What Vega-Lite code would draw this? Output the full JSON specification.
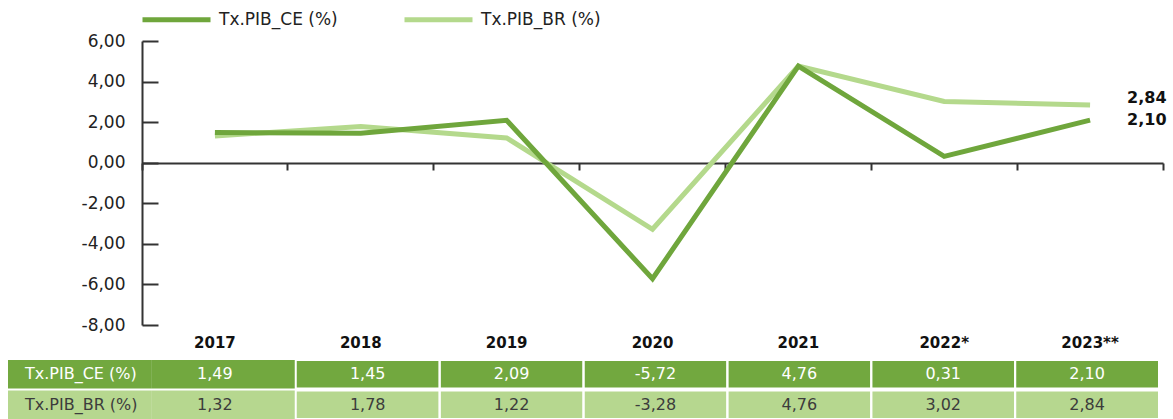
{
  "$schema": "https://vega.github.io/schema/vega-lite/v6.json",
  "width": 1173,
  "height": 419,
  "autosize": {"type": "none"},
  "padding": 0,
  "background": "white",
  "config": {
    "view": {"stroke": null},
    "font": "DejaVu Sans",
    "locale": {
      "number": {"decimal": ",", "thousands": ".", "grouping": [3], "currency": ["R$", ""], "minus": "-"}
    }
  },
  "datasets": {
    "pib": [
      {"ano": "2017", "serie": "Tx.PIB_CE (%)", "valor": 1.49},
      {"ano": "2018", "serie": "Tx.PIB_CE (%)", "valor": 1.45},
      {"ano": "2019", "serie": "Tx.PIB_CE (%)", "valor": 2.09},
      {"ano": "2020", "serie": "Tx.PIB_CE (%)", "valor": -5.72},
      {"ano": "2021", "serie": "Tx.PIB_CE (%)", "valor": 4.76},
      {"ano": "2022*", "serie": "Tx.PIB_CE (%)", "valor": 0.31},
      {"ano": "2023**", "serie": "Tx.PIB_CE (%)", "valor": 2.10},
      {"ano": "2017", "serie": "Tx.PIB_BR (%)", "valor": 1.32},
      {"ano": "2018", "serie": "Tx.PIB_BR (%)", "valor": 1.78},
      {"ano": "2019", "serie": "Tx.PIB_BR (%)", "valor": 1.22},
      {"ano": "2020", "serie": "Tx.PIB_BR (%)", "valor": -3.28},
      {"ano": "2021", "serie": "Tx.PIB_BR (%)", "valor": 4.76},
      {"ano": "2022*", "serie": "Tx.PIB_BR (%)", "valor": 3.02},
      {"ano": "2023**", "serie": "Tx.PIB_BR (%)", "valor": 2.84}
    ],
    "linhas": [
      {"serie": "Tx.PIB_CE (%)"},
      {"serie": "Tx.PIB_BR (%)"}
    ]
  },
  "resolve": {"scale": {"x": "independent", "y": "independent"}},
  "layer": [
    {
      "data": {"name": "pib"},
      "encoding": {
        "x": {
          "field": "ano",
          "type": "nominal",
          "sort": null,
          "scale": {
            "type": "band",
            "domain": ["2017", "2018", "2019", "2020", "2021", "2022*", "2023**"],
            "range": [142, 1163],
            "paddingInner": 0,
            "paddingOuter": 0
          },
          "axis": {
            "orient": "bottom",
            "offset": -256,
            "labels": false,
            "title": null,
            "grid": false,
            "bandPosition": 1,
            "tickExtra": true,
            "tickSize": 7,
            "tickWidth": 2,
            "tickColor": "#333333",
            "domainColor": "#333333",
            "domainWidth": 2
          }
        },
        "y": {
          "field": "valor",
          "type": "quantitative",
          "scale": {"domain": [-8, 6], "range": [325, 41], "nice": false, "zero": false},
          "axis": {
            "orient": "right",
            "offset": -1031,
            "values": [-8, -6, -4, -2, 0, 2, 4, 6],
            "format": ".2f",
            "labelExpr": "replace(replace(datum.label, '.', ','), '\u2212', '-')",
            "title": null,
            "grid": false,
            "tickSize": 16,
            "tickWidth": 2,
            "tickColor": "#333333",
            "domainColor": "#333333",
            "domainWidth": 2,
            "labelAlign": "right",
            "labelPadding": -33,
            "labelFontSize": 17,
            "labelColor": "#222222",
            "labelFont": "DejaVu Sans"
          }
        }
      },
      "layer": [
        {
          "transform": [{"filter": "datum.serie === 'Tx.PIB_BR (%)'"}],
          "mark": {"type": "line", "strokeWidth": 5},
          "encoding": {
            "color": {
              "field": "serie",
              "type": "nominal",
              "scale": {"domain": ["Tx.PIB_CE (%)", "Tx.PIB_BR (%)"], "range": ["#6fa63c", "#b4d98c"]},
              "legend": {
                "orient": "none",
                "legendX": 140,
                "legendY": -17,
                "direction": "horizontal",
                "title": null,
                "symbolSize": 4624,
                "symbolStrokeWidth": 5,
                "labelFontSize": 17,
                "labelFont": "DejaVu Sans",
                "labelColor": "#222222",
                "columnPadding": 56,
                "labelOffset": 6
              }
            }
          }
        },
        {
          "transform": [{"filter": "datum.serie === 'Tx.PIB_CE (%)'"}],
          "mark": {"type": "line", "strokeWidth": 5},
          "encoding": {
            "color": {"field": "serie", "type": "nominal"}
          }
        },
        {
          "transform": [{"filter": "datum.serie === 'Tx.PIB_CE (%)'"}],
          "mark": {"type": "text", "fontSize": 15, "fontWeight": "bold", "color": "#111111", "baseline": "middle"},
          "encoding": {
            "y": {"datum": -8.9},
            "text": {"field": "ano"}
          }
        },
        {
          "transform": [{"filter": "datum.ano === '2023**' && datum.serie === 'Tx.PIB_BR (%)'"}],
          "mark": {"type": "text", "fontSize": 16, "fontWeight": "bold", "color": "#111111", "align": "left", "baseline": "middle", "dx": 37, "dy": -7},
          "encoding": {
            "text": {"field": "valor", "type": "quantitative", "format": ".2f"}
          }
        },
        {
          "transform": [{"filter": "datum.ano === '2023**' && datum.serie === 'Tx.PIB_CE (%)'"}],
          "mark": {"type": "text", "fontSize": 16, "fontWeight": "bold", "color": "#111111", "align": "left", "baseline": "middle", "dx": 37, "dy": 0},
          "encoding": {
            "text": {"field": "valor", "type": "quantitative", "format": ".2f"}
          }
        }
      ]
    },
    {
      "encoding": {
        "y": {
          "field": "serie",
          "type": "nominal",
          "sort": null,
          "scale": {"type": "band", "domain": ["Tx.PIB_CE (%)", "Tx.PIB_BR (%)"], "range": [360, 419], "paddingInner": 0.06, "paddingOuter": 0},
          "axis": null
        }
      },
      "layer": [
        {
          "data": {"name": "linhas"},
          "mark": {"type": "rect"},
          "encoding": {
            "x": {
              "datum": "rot",
              "type": "nominal",
              "scale": {
                "type": "band",
                "domain": ["rot", "2017", "2018", "2019", "2020", "2021", "2022*", "2023**"],
                "range": [8, 1159],
                "paddingInner": 0,
                "paddingOuter": 0
              },
              "axis": null
            },
            "fill": {
              "field": "serie",
              "type": "nominal",
              "scale": {"domain": ["Tx.PIB_CE (%)", "Tx.PIB_BR (%)"], "range": ["#72a83f", "#b6d78f"]},
              "legend": null
            }
          }
        },
        {
          "data": {"name": "pib"},
          "mark": {"type": "rect"},
          "encoding": {
            "x": {"field": "ano", "type": "nominal", "axis": null},
            "fill": {"field": "serie", "type": "nominal", "legend": null}
          }
        },
        {
          "data": {"name": "pib"},
          "transform": [{"filter": "datum.ano !== '2017'"}],
          "mark": {"type": "rect", "filled": false, "stroke": "white", "strokeWidth": 2},
          "encoding": {
            "x": {"field": "ano", "type": "nominal", "axis": null}
          }
        },
        {
          "data": {"name": "linhas"},
          "mark": {"type": "text", "align": "left", "baseline": "middle", "fontSize": 16, "dx": 17},
          "encoding": {
            "x": {"datum": "rot", "type": "nominal", "bandPosition": 0, "axis": null},
            "text": {"field": "serie"},
            "color": {"condition": {"test": "datum.serie === 'Tx.PIB_CE (%)'", "value": "white"}, "value": "#3c3c3c"}
          }
        },
        {
          "data": {"name": "pib"},
          "transform": [{"filter": "datum.ano === '2017'"}],
          "mark": {"type": "text", "align": "center", "baseline": "middle", "fontSize": 16, "dx": -9},
          "encoding": {
            "x": {"field": "ano", "type": "nominal", "axis": null},
            "text": {"field": "valor", "type": "quantitative", "format": ".2f"},
            "color": {"condition": {"test": "datum.serie === 'Tx.PIB_CE (%)'", "value": "white"}, "value": "#3c3c3c"}
          }
        },
        {
          "data": {"name": "pib"},
          "transform": [{"filter": "datum.ano !== '2017'"}],
          "mark": {"type": "text", "align": "center", "baseline": "middle", "fontSize": 16},
          "encoding": {
            "x": {"field": "ano", "type": "nominal", "axis": null},
            "text": {"field": "valor", "type": "quantitative", "format": ".2f"},
            "color": {"condition": {"test": "datum.serie === 'Tx.PIB_CE (%)'", "value": "white"}, "value": "#3c3c3c"}
          }
        }
      ]
    }
  ]
}
